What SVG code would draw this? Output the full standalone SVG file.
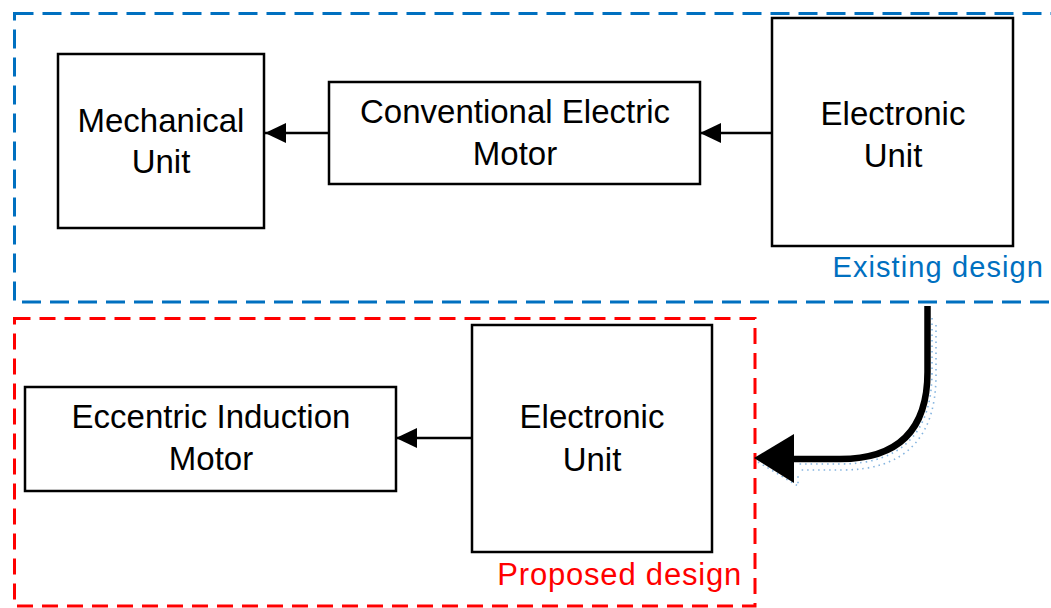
<svg xmlns="http://www.w3.org/2000/svg" width="1051" height="608" viewBox="0 0 1051 608">
  <style>
    .box { fill: #ffffff; stroke: #000000; stroke-width: 2.5; }
    .lbl { font-family: "Liberation Sans", Arial, sans-serif; font-size: 33px; fill: #000000; text-anchor: middle; }
    .frame { fill: none; stroke-width: 3; }
    .link { stroke: #000000; stroke-width: 2.5; fill: none; marker-end: url(#tri); }
  </style>
  <defs>
    <marker id="tri" viewBox="0 0 21 20" refX="21" refY="10" markerWidth="21" markerHeight="20" markerUnits="userSpaceOnUse" orient="auto">
      <path d="M0,0 L21,10 L0,20 Z" fill="#000000"/>
    </marker>
  </defs>

  <!-- grouping frames -->
  <g id="existing-frame">
    <rect class="frame" x="14.5" y="13.5" width="1045" height="288.5" stroke="#0070C0" stroke-dasharray="19 9"/>
    <text x="1044" y="277" font-family="Liberation Sans, Arial, sans-serif" font-size="29" letter-spacing="1.1" fill="#0070C0" text-anchor="end">Existing design</text>
  </g>
  <g id="proposed-frame">
    <rect class="frame" x="14.5" y="318.5" width="740.5" height="287.5" stroke="#FF0000" stroke-dasharray="16 9"/>
    <text x="742" y="585" font-family="Liberation Sans, Arial, sans-serif" font-size="31" letter-spacing="0.8" fill="#FF0000" text-anchor="end">Proposed design</text>
  </g>

  <!-- existing design blocks -->
  <g id="mechanical-unit">
    <rect class="box" x="58" y="54" width="206" height="174"/>
    <text class="lbl" x="161" y="132">Mechanical</text>
    <text class="lbl" x="161" y="173">Unit</text>
  </g>
  <g id="conventional-motor">
    <rect class="box" x="329" y="82" width="371" height="102"/>
    <text class="lbl" x="515" y="123">Conventional Electric</text>
    <text class="lbl" x="515" y="165">Motor</text>
  </g>
  <g id="electronic-unit-existing">
    <rect class="box" x="772" y="18" width="241" height="228"/>
    <text class="lbl" x="893" y="125">Electronic</text>
    <text class="lbl" x="893" y="167">Unit</text>
  </g>

  <!-- proposed design blocks -->
  <g id="eccentric-motor">
    <rect class="box" x="25" y="387" width="371" height="104"/>
    <text class="lbl" x="211" y="428">Eccentric Induction</text>
    <text class="lbl" x="211" y="470">Motor</text>
  </g>
  <g id="electronic-unit-proposed">
    <rect class="box" x="472" y="325" width="240" height="227"/>
    <text class="lbl" x="592" y="428">Electronic</text>
    <text class="lbl" x="592" y="471">Unit</text>
  </g>

  <!-- connectors -->
  <g id="connectors">
    <line class="link" x1="329" y1="133" x2="265" y2="133"/>
    <line class="link" x1="772" y1="133" x2="700" y2="133"/>
    <line class="link" x1="472" y1="438" x2="396" y2="438"/>

    <!-- transition arrow: dotted drop shadow, then the bold arrow -->
    <g id="transition-arrow">
      <g fill="none" stroke="#5B9BD5" stroke-width="1.6" stroke-dasharray="1.5 4" opacity="0.75">
        <path d="M932,318 L932,372 Q932,464 840,464 L797,464"/>
        <path d="M936,325 L936,375 Q936,470 842,470 L800,470"/>
        <path d="M758,462 L798,486 L798,476"/>
      </g>
      <path d="M927.5,306 L927.5,372 Q927.5,459 840,459 L790,459" fill="none" stroke="#000000" stroke-width="6.5"/>
      <path d="M754,458 L794,434 L794,483 Z" fill="#000000"/>
    </g>
  </g>
</svg>
